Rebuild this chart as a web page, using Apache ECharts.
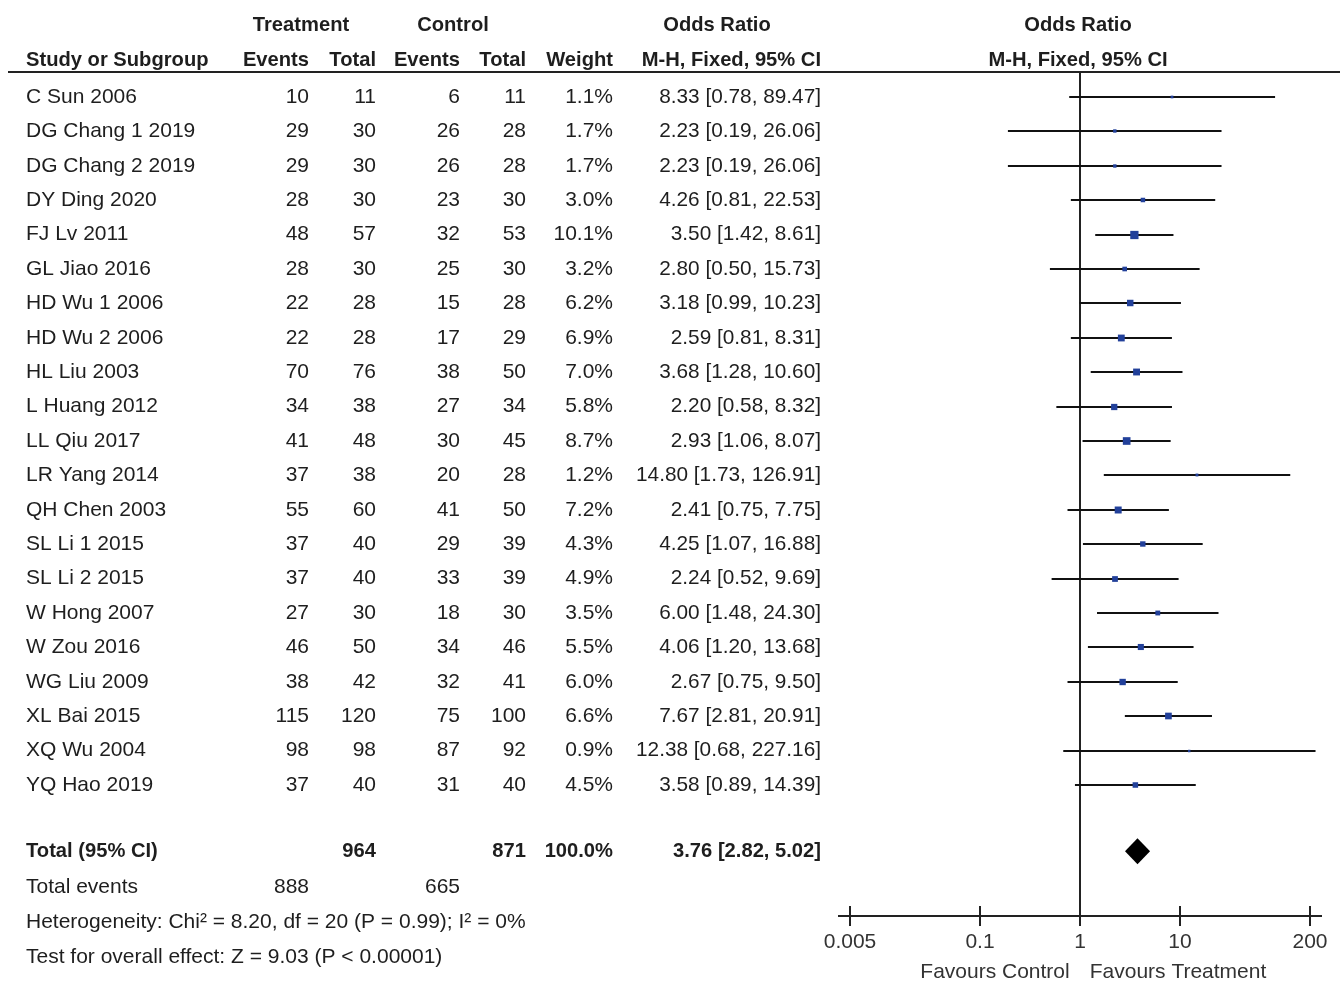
<!DOCTYPE html>
<html><head><meta charset="utf-8">
<script src="https://cdn.jsdelivr.net/npm/echarts@6/dist/echarts.min.js"></script>
<style>html,body{margin:0;padding:0;background:#fff}#c{width:1340px;height:987px}</style>
</head><body><div id="c"></div>
<script>
const studies = ['C Sun 2006','DG Chang 1 2019','DG Chang 2 2019','DY Ding 2020','FJ Lv 2011','GL Jiao 2016','HD Wu 1 2006','HD Wu 2 2006','HL Liu 2003','L Huang 2012','LL Qiu 2017','LR Yang 2014','QH Chen 2003','SL Li 1 2015','SL Li 2 2015','W Hong 2007','W Zou 2016','WG Liu 2009','XL Bai 2015','XQ Wu 2004','YQ Hao 2019'];
const tEvents = [10,29,29,28,48,28,22,22,70,34,41,37,55,37,37,27,46,38,115,98,37];
const tTotal  = [11,30,30,30,57,30,28,28,76,38,48,38,60,40,40,30,50,42,120,98,40];
const cEvents = [6,26,26,23,32,25,15,17,38,27,30,20,41,29,33,18,34,32,75,87,31];
const cTotal  = [11,28,28,30,53,30,28,29,50,34,45,28,50,39,39,30,46,41,100,92,40];
const weights = [1.1,1.7,1.7,3.0,10.1,3.2,6.2,6.9,7.0,5.8,8.7,1.2,7.2,4.3,4.9,3.5,5.5,6.0,6.6,0.9,4.5];
const orVals  = [8.33,2.23,2.23,4.26,3.50,2.80,3.18,2.59,3.68,2.20,2.93,14.80,2.41,4.25,2.24,6.00,4.06,2.67,7.67,12.38,3.58];
const ciLow   = [0.78,0.19,0.19,0.81,1.42,0.50,0.99,0.81,1.28,0.58,1.06,1.73,0.75,1.07,0.52,1.48,1.20,0.75,2.81,0.68,0.89];
const ciHigh  = [89.47,26.06,26.06,22.53,8.61,15.73,10.23,8.31,10.60,8.32,8.07,126.91,7.75,16.88,9.69,24.30,13.68,9.50,20.91,227.16,14.39];
const total = {tTotal:964, cTotal:871, weight:'100.0%', or:3.76, lo:2.82, hi:5.02, tEvents:888, cEvents:665};
const footerLines = ['Heterogeneity: Chi\u00b2 = 8.20, df = 20 (P = 0.99); I\u00b2 = 0%', 'Test for overall effect: Z = 9.03 (P < 0.00001)'];
const tickValues = [0.005, 0.1, 1, 10, 200];
const tickLabels = ['0.005','0.1','1','10','200'];
const favours = ['Favours Control','Favours Treatment'];

const FONT = "'Liberation Sans',Arial,sans-serif";
const FS = 21;
const SX = 1.0, SXB = 0.96, SXCI = 0.99;
const TXT = '#1e1e1e';
const totalRow = 21.93, eventsRow = 22.97, hetRow = 23.98, testRow = 25.0;
const cols = {name:26, tE:309, tT:376, cE:460, cT:526, w:613, ci:821};

function fmt2(v){return v.toFixed(2);}
function ciText(i){return fmt2(orVals[i])+' ['+fmt2(ciLow[i])+', '+fmt2(ciHigh[i])+']';}
function txt(x,y,s,align,bold,color,sx){
  return {type:'text', x:x, y:y, scaleX:sx||(bold?SXB:SX), style:{x:0,y:0,text:s,textAlign:align||'left',textVerticalAlign:'middle',
    font:(bold?'bold ':'')+FS+'px '+FONT, fill:color||TXT}};
}

const chart = echarts.init(document.getElementById('c'), null, {renderer:'canvas'});
const idx = studies.map((s,i)=>i);

chart.setOption({
  backgroundColor:'#ffffff',
  animation:false,
  grid:{left:850, right:30, top:72, bottom:71},
  xAxis:{type:'log', logBase:10, min:0.005, max:200, axisLine:{show:false}, axisTick:{show:false}, axisLabel:{show:false}, splitLine:{show:false}},
  yAxis:{type:'value', inverse:true, min:-0.727, max:23.81, show:false, splitLine:{show:false}},
  graphic:[
    txt(301,25,'Treatment','center',true),
    txt(453,25,'Control','center',true),
    txt(717,25,'Odds Ratio','center',true),
    txt(1078,25,'Odds Ratio','center',true),
    txt(26,60,'Study or Subgroup','left',true),
    txt(cols.tE,60,'Events','right',true),
    txt(cols.tT,60,'Total','right',true),
    txt(cols.cE,60,'Events','right',true),
    txt(cols.cT,60,'Total','right',true),
    txt(cols.w,60,'Weight','right',true),
    txt(cols.ci,60,'M-H, Fixed, 95% CI','right',true),
    txt(1078,60,'M-H, Fixed, 95% CI','center',true),
    {type:'line', shape:{x1:8,y1:72,x2:1340,y2:72}, style:{stroke:'#222',lineWidth:2}}
  ],
  series:[
    { // table rows
      type:'custom', data:idx, silent:true, clip:false,
      renderItem:function(params, api){
        const i = api.value(0);
        const y = api.coord([1, i])[1];
        return {type:'group', children:[
          txt(cols.name,y,studies[i],'left'),
          txt(cols.tE,y,String(tEvents[i]),'right'),
          txt(cols.tT,y,String(tTotal[i]),'right'),
          txt(cols.cE,y,String(cEvents[i]),'right'),
          txt(cols.cT,y,String(cTotal[i]),'right'),
          txt(cols.w,y,weights[i].toFixed(1)+'%','right'),
          txt(cols.ci,y,ciText(i),'right',false,null,SXCI)
        ]};
      }
    },
    { // summary + footer
      type:'custom', data:[0], silent:true, clip:false,
      renderItem:function(params, api){
        const yT = api.coord([1,totalRow])[1], yE = api.coord([1,eventsRow])[1];
        const yH = api.coord([1,hetRow])[1], yZ = api.coord([1,testRow])[1];
        return {type:'group', children:[
          txt(cols.name,yT,'Total (95% CI)','left',true),
          txt(cols.tT,yT,String(total.tTotal),'right',true),
          txt(cols.cT,yT,String(total.cTotal),'right',true),
          txt(cols.w,yT,total.weight,'right',true),
          txt(cols.ci,yT,fmt2(total.or)+' ['+fmt2(total.lo)+', '+fmt2(total.hi)+']','right',true),
          txt(cols.name,yE,'Total events','left'),
          txt(cols.tE,yE,String(total.tEvents),'right'),
          txt(cols.cE,yE,String(total.cEvents),'right'),
          txt(cols.name,yH,footerLines[0],'left'),
          txt(cols.name,yZ,footerLines[1],'left')
        ]};
      }
    },
    { // null line at OR = 1
      type:'custom', data:[0], silent:true, clip:false,
      renderItem:function(params, api){
        const p0 = api.coord([1,-0.727]), p1 = api.coord([1,23.81]);
        const x = Math.round(p0[0]);
        return {type:'line', shape:{x1:x,y1:p0[1],x2:x,y2:p1[1]}, style:{stroke:'#222',lineWidth:2}};
      }
    },
    { // bottom axis with ticks and labels
      type:'custom', data:[0], silent:true, clip:false,
      renderItem:function(params, api){
        const yA = Math.round(api.coord([1,23.81])[1]);
        const xa = api.coord([tickValues[0],0])[0], xb = api.coord([tickValues[tickValues.length-1],0])[0];
        const ch = [{type:'line', shape:{x1:xa-12,y1:yA,x2:xb+12,y2:yA}, style:{stroke:'#222',lineWidth:2}}];
        tickValues.forEach(function(v,k){
          const x = Math.round(api.coord([v,0])[0]);
          ch.push({type:'line', shape:{x1:x,y1:yA-10,x2:x,y2:yA+10}, style:{stroke:'#222',lineWidth:2}});
          ch.push(txt(x,yA+26,tickLabels[k],'center',false,'#333'));
        });
        const x1 = api.coord([1,0])[0];
        ch.push(txt(x1-85,yA+56,favours[0],'center',false,'#333'));
        ch.push(txt(x1+98,yA+56,favours[1],'center',false,'#333'));
        return {type:'group', children:ch};
      }
    },
    { // CI lines and weighted squares
      type:'custom', data:idx, silent:true, clip:false,
      renderItem:function(params, api){
        const i = api.value(0);
        const a = api.coord([ciLow[i], i]), b = api.coord([ciHigh[i], i]), c = api.coord([orVals[i], i]);
        const y = Math.round(a[1]);
        const s = Math.sqrt(weights[i])*2.6;
        return {type:'group', children:[
          {type:'line', shape:{x1:a[0],y1:y,x2:b[0],y2:y}, style:{stroke:'#111',lineWidth:2}},
          {type:'rect', shape:{x:c[0]-s/2,y:y-s/2,width:s,height:s}, style:{fill:'#22409a'}}
        ]};
      }
    },
    { // pooled diamond
      type:'custom', data:[0], silent:true, clip:false,
      renderItem:function(params, api){
        const l = api.coord([total.lo,totalRow]), r = api.coord([total.hi,totalRow]), m = api.coord([total.or,totalRow]);
        const h = 13;
        return {type:'polygon', shape:{points:[[l[0],l[1]],[m[0],m[1]-h],[r[0],r[1]],[m[0],m[1]+h]]}, style:{fill:'#000'}};
      }
    }
  ]
});
</script></body></html>
